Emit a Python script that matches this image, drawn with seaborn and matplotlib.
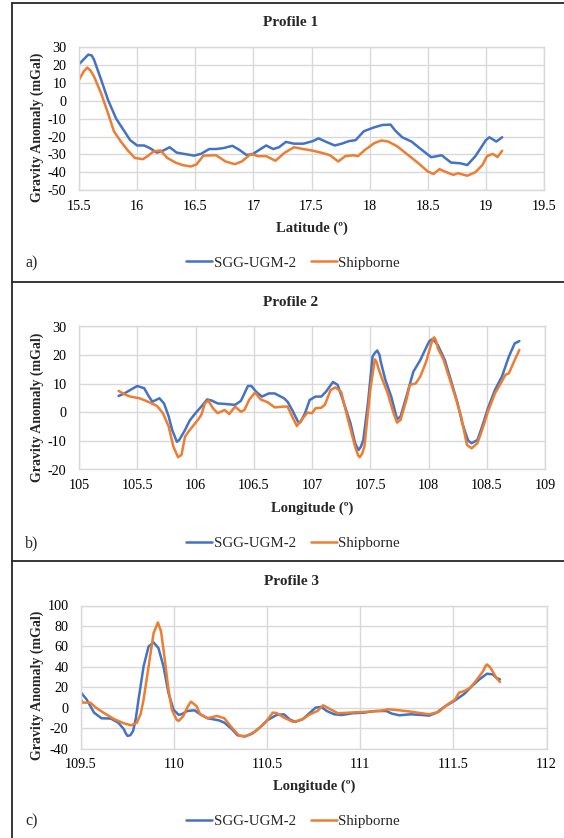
import numpy as np
import pandas as pd
import matplotlib
matplotlib.use("Agg")
import matplotlib.pyplot as plt
from matplotlib.lines import Line2D
from matplotlib.ticker import FuncFormatter
import seaborn as sns

# ---------------- data ----------------
p1_lat_sgg = [15.50, 15.55, 15.58, 15.61, 15.63, 15.69, 15.75, 15.82, 15.88, 15.94, 16.00, 16.06, 16.11, 16.17,
              16.22, 16.28, 16.34, 16.40, 16.49, 16.55, 16.62, 16.68, 16.74, 16.82, 16.88, 16.94,
              16.99, 17.05, 17.11, 17.17, 17.22, 17.28, 17.35, 17.43, 17.51, 17.56, 17.62, 17.70,
              17.76, 17.82, 17.88, 17.95, 18.04, 18.11, 18.18, 18.22, 18.28, 18.36, 18.44, 18.53,
              18.62, 18.70, 18.78, 18.84, 18.91, 19.00, 19.03, 19.09, 19.14]
p1_val_sgg = [20.6, 24, 26, 25.5, 23, 12, 0.5, -10, -16, -22, -25, -25, -26.5, -29,
              -28, -26, -29, -29.7, -30.7, -29.7, -27, -27, -26.5, -25.2, -27.5, -30.3,
              -30, -27.5, -25, -27, -26, -23, -24, -24, -22.6, -21, -22.8, -25,
              -24, -22.6, -22, -17, -14.8, -13.5, -13.3, -16.6, -20.4, -22.8, -27, -31.6,
              -30.5, -34.6, -35, -36, -31, -22, -20.4, -22.8, -20.4]
p1_lat_ship = [15.50, 15.54, 15.57, 15.60, 15.63, 15.69, 15.75, 15.80, 15.86, 15.92, 15.98, 16.05, 16.09, 16.14,
               16.20, 16.26, 16.33, 16.39, 16.46, 16.51, 16.57, 16.68, 16.76, 16.84, 16.90, 16.98,
               17.04, 17.11, 17.19, 17.27, 17.35, 17.42, 17.50, 17.58, 17.66, 17.73, 17.79, 17.86,
               17.90, 17.96, 18.04, 18.10, 18.16, 18.24, 18.33, 18.42, 18.50, 18.55, 18.60, 18.66,
               18.72, 18.76, 18.84, 18.91, 18.97, 19.01, 19.06, 19.10, 19.14]
p1_val_ship = [11.8, 16.5, 18.7, 17, 13.6, 4.3, -7, -17, -22.8, -27.8, -32, -32.7, -31, -28.4,
               -27.8, -32, -34.6, -36, -36.8, -35.7, -30.7, -30.5, -34, -35.5, -34, -29.7,
               -31, -31, -33.6, -29, -26, -26.9, -27.8, -29, -30.5, -34, -31, -30.5,
               -31, -27.5, -23.7, -22.2, -22.8, -25.6, -30.3, -35, -39.6, -41, -38.3, -40,
               -41.5, -40.6, -42, -40, -36, -31, -29.7, -31.5, -28]

p2_lon_sgg = [105.34, 105.39, 105.44, 105.50, 105.56, 105.60, 105.63, 105.69, 105.73, 105.77,
              105.80, 105.84, 105.86, 105.91, 105.95, 106.00, 106.05, 106.10, 106.14, 106.19,
              106.26, 106.34, 106.39, 106.45, 106.48, 106.52, 106.57, 106.63, 106.68, 106.76,
              106.79, 106.83, 106.88, 106.90, 106.94, 106.98, 107.03, 107.08, 107.12, 107.18,
              107.22, 107.26, 107.33, 107.37, 107.39, 107.40, 107.42, 107.44, 107.48, 107.52, 107.54,
              107.56, 107.58, 107.59, 107.63, 107.68, 107.73, 107.76, 107.81, 107.87, 107.93, 107.99,
              108.01, 108.03, 108.05, 108.08,
              108.14, 108.20, 108.25, 108.29, 108.34, 108.37, 108.42, 108.46, 108.51, 108.57,
              108.63, 108.69, 108.74, 108.78]
p2_val_sgg = [5.7, 6.6, 7.8, 9.2, 8.4, 5.5, 3.7, 4.9, 3.1, -1.5,
              -6.2, -10.3, -9.7, -6.2, -2.9, -0.3, 2, 4.5, 4.1, 3.1,
              2.9, 2.6, 4, 9.2, 9.2, 7.2, 5.5, 6.6, 6.6, 4.9,
              3.7, 0.8, -3.3, -3.5, -0.3, 4.3, 5.5, 5.5, 7.2, 10.6,
              9.6, 4.9, -3.8, -10.8, -12.5, -13.2, -12, -9.7, 3.1, 19.5, 20.8,
              21.6, 20, 17.7, 11.3, 5.5, -2.4, -1.5, 5.5, 14.2, 18.3, 23.5,
              25, 25.5, 25, 23.5,
              18.3, 10.1, 3.1, -3.8, -9.9, -10.8, -9.7, -5, 1.4, 7.8,
              12.5, 19.5, 24.1, 24.9]
p2_lon_ship = [105.34, 105.39, 105.44, 105.52, 105.61, 105.67, 105.72, 105.77, 105.81, 105.85,
               105.88, 105.91, 105.95, 106.02, 106.05, 106.08, 106.11, 106.15, 106.19, 106.25,
               106.29, 106.34, 106.39, 106.42, 106.46, 106.51, 106.56, 106.62, 106.68, 106.76,
               106.79, 106.83, 106.87, 106.91, 106.96, 107.00, 107.03, 107.08, 107.11, 107.16,
               107.20, 107.25, 107.31, 107.37, 107.395, 107.41, 107.43, 107.45, 107.50, 107.53,
               107.54, 107.555, 107.57, 107.60,
               107.65, 107.70, 107.73, 107.76, 107.81, 107.84, 107.89, 107.93, 107.98, 108.02,
               108.04, 108.05, 108.065, 108.08, 108.13, 108.17, 108.23, 108.28, 108.33, 108.37, 108.42, 108.46,
               108.51, 108.57, 108.62, 108.66, 108.69, 108.74, 108.78]
p2_val_ship = [7.5, 6.3, 5.5, 4.9, 3.4, 2.2, -0.3, -5, -12, -15.7,
               -14.9, -8.5, -6.2, -2.7, -0.9, 3.1, 4.1, 1.4, -0.3, 0.8,
               -0.6, 2, 0.2, 0.8, 4.3, 6.9, 4.5, 3.5, 1.7, 2,
               2, -1.5, -4.8, -2.7, -0.1, -0.3, 1.4, 1.6, 2.6, 7.8,
               8.7, 7.2, -2.7, -12, -15, -15.7, -14.5, -12, 7.8, 16,
               18.5, 17.5, 15.4, 11.9,
               6.6, -0.3, -3.6, -2.7, 4.3, 9.6, 10.1, 12.5, 17.7, 23.5,
               25.8, 26.2, 25, 22.4, 18.3, 13.1, 5.5, -1.5, -11.4, -12.6, -10.8, -6.2,
               0.2, 6.6, 10.1, 13.1, 13.6, 18.3, 21.8]

p3_lon_sgg = [109.50, 109.53, 109.57, 109.61, 109.66, 109.70, 109.73, 109.74, 109.75, 109.765, 109.78,
              109.795, 109.809, 109.836, 109.863, 109.89, 109.916, 109.943, 109.97, 109.997, 110.024,
              110.04, 110.07, 110.11,
              110.14, 110.18, 110.24, 110.27, 110.31, 110.34, 110.38, 110.42, 110.46, 110.50,
              110.55, 110.59, 110.62, 110.65, 110.69, 110.73, 110.76, 110.79, 110.82, 110.86,
              110.90, 110.96, 111.02, 111.08, 111.14, 111.17, 111.21, 111.27, 111.33, 111.37,
              111.41, 111.45, 111.51, 111.56, 111.60, 111.64, 111.68, 111.71, 111.73, 111.75]
p3_val_sgg = [14.7, 8.1, -4.9, -10.4, -10.7, -14.7, -21, -25, -27.7, -27, -22.8,
              -10, 8, 40.3, 59.9, 63.8, 58.3, 40.3, 14.2, -2, -7,
              -6.5, -3.3, -2.6,
              -6.5, -10.4, -12.4, -14.7, -21, -27, -28.3, -25.4, -19.5, -12.4,
              -7.2, -6.5, -11.4, -14, -11.4, -4.9, 0, 0.7, -3.3, -6.5,
              -7.2, -5.5, -4.9, -3.3, -3.3, -5.9, -7.5, -6.5, -7.2, -7.8,
              -4.9, 0.7, 7.2, 13.7, 21.2, 27.7, 33.2, 32.6, 29.3, 27.7]
p3_lon_ship = [109.50, 109.51, 109.55, 109.58, 109.62, 109.68, 109.73, 109.77, 109.80, 109.82,
               109.836, 109.863, 109.89, 109.913, 109.93, 109.948, 109.97, 109.988, 110.014, 110.025,
               110.05, 110.07, 110.09, 110.12, 110.14, 110.18, 110.23, 110.27, 110.31, 110.35, 110.39, 110.44,
               110.49, 110.53, 110.55, 110.59, 110.64, 110.69, 110.73, 110.77, 110.80, 110.84,
               110.88, 110.94, 111.02, 111.10, 111.15, 111.21, 111.27, 111.33, 111.37, 111.42,
               111.47, 111.51, 111.53, 111.56, 111.59, 111.62, 111.66, 111.67, 111.68, 111.695, 111.71, 111.73,
               111.75]
p3_val_ship = [8.1, 4.9, 4.9, 0, -4.9, -11.4, -15.3, -17.3, -14.7, -6.5,
               7.7, 40.3, 73, 83.4, 74.6, 50, 17.5, -2, -12, -13,
               -8.1, 0, 5.9, 1.6, -6.5, -10.4, -8.1, -10.4, -19.5, -27.7, -27.7, -22.8,
               -14.7, -4.9, -5.2, -9.8, -14, -11.4, -6.5, -3.3, 2.3, -1.6,
               -5.5, -4.9, -4.2, -3.3, -1.6, -2.6, -3.9, -5.5, -6.5, -4.2,
               3.3, 8.1, 14.7, 16.3, 19.5, 26, 35.8, 40, 42.3, 40, 35.8, 29.3,
               25.1]

series_names = ["SGG-UGM-2", "Shipborne"]
panel_titles = ["Profile 1", "Profile 2", "Profile 3"]
x_labels = ["Latitude (º)", "Longitude (º)", "Longitude (º)"]
y_label = "Gravity Anomaly (mGal)"
panel_tags = ["a)", "b)", "c)"]
p1_xticks = [15.5, 16, 16.5, 17, 17.5, 18, 18.5, 19, 19.5]
p1_yticks = [-50, -40, -30, -20, -10, 0, 10, 20, 30]
p2_xticks = [105, 105.5, 106, 106.5, 107, 107.5, 108, 108.5, 109]
p2_yticks = [-20, -10, 0, 10, 20, 30]
p3_xticks = [109.5, 110, 110.5, 111, 111.5, 112]
p3_yticks = [-40, -20, 0, 20, 40, 60, 80, 100]

# ---------------- style ----------------
BLUE = "#4472C4"
ORANGE = "#ED7D31"
GRID = "#D9D9D9"
W, H = 564, 838

sns.set_theme(style="white")
plt.rcParams["font.family"] = ["Liberation Serif", "DejaVu Serif"]
plt.rcParams["axes.unicode_minus"] = False

fig = plt.figure(figsize=(W / 100, H / 100), dpi=100)
fig.patch.set_facecolor("white")


def fx(px):
    return px / W


def fy(py):
    return 1 - py / H


def panel(box, off, xa, ya, xb, yb, xticks, yticks, title, xlabel, tag):
    left, right, top, bottom = box
    ax = fig.add_axes([fx(left), fy(bottom), fx(right - left), (bottom - top) / H])
    df = pd.concat([
        pd.DataFrame({"x": xa, "y": ya, "series": series_names[0]}),
        pd.DataFrame({"x": xb, "y": yb, "series": series_names[1]}),
    ], ignore_index=True)
    sns.lineplot(data=df, x="x", y="y", hue="series", hue_order=series_names,
                 palette={series_names[0]: BLUE, series_names[1]: ORANGE},
                 estimator=None, sort=False, linewidth=1.8, legend=False, ax=ax)
    for ln in ax.lines:
        ln.set_solid_joinstyle("round")
        ln.set_solid_capstyle("round")
    ax.set_xlim(xticks[0], xticks[-1])
    ax.set_ylim(yticks[0], yticks[-1])
    ax.set_xticks(xticks)
    ax.set_yticks(yticks)
    ax.xaxis.set_major_formatter(FuncFormatter(lambda v, p: f"{v:g}"))
    ax.yaxis.set_major_formatter(FuncFormatter(lambda v, p: f"{v:g}"))
    ax.tick_params(axis="both", length=0, labelsize=10.2, colors="black")
    ax.tick_params(axis="y", pad=9)
    ax.tick_params(axis="x", pad=7)
    ax.grid(True, color=GRID, linewidth=1.0)
    ax.set_axisbelow(True)
    for s in ax.spines.values():
        s.set_color(GRID)
        s.set_linewidth(1.0)
    ax.set_xlabel("")
    ax.set_ylabel("")
    # texts
    fig.text(fx(291), fy(off + 23), title, ha="center", va="center",
             fontsize=11, fontweight="bold")
    fig.text(fx((left + right) / 2), fy(off + 228), xlabel, ha="center", va="center",
             fontsize=10.5, fontweight="bold")
    fig.text(fx(37), fy(off + 127), y_label, ha="center", va="center",
             rotation=90, fontsize=10, fontweight="bold")
    fig.text(fx(25), fy(off + 263), tag, ha="left", va="center", fontsize=11.5)
    handles = [Line2D([], [], color=BLUE, lw=1.8), Line2D([], [], color=ORANGE, lw=1.8)]
    fig.legend(handles, series_names, loc="center", ncol=2, frameon=False,
               bbox_to_anchor=(fx(293), fy(off + 263)), fontsize=10.8,
               handlelength=1.75, handletextpad=0.1, columnspacing=1.0,
               borderaxespad=0, borderpad=0)
    return ax


panel((79, 544, 47.5, 190), 0, p1_lat_sgg, p1_val_sgg, p1_lat_ship, p1_val_ship,
      p1_xticks, p1_yticks, panel_titles[0], x_labels[0], panel_tags[0])
panel((79, 545, 326.5, 469.5), 280, p2_lon_sgg, p2_val_sgg, p2_lon_ship, p2_val_ship,
      p2_xticks, p2_yticks, panel_titles[1], x_labels[1], panel_tags[1])
panel((81, 546.5, 605.5, 748.5), 558, p3_lon_sgg, p3_val_sgg, p3_lon_ship, p3_val_ship,
      p3_xticks, p3_yticks, panel_titles[2], x_labels[2], panel_tags[2])

# panel frame lines
for yy in (3.5, 282, 561):
    fig.add_artist(Line2D([fx(11.5), 1.0], [fy(yy), fy(yy)], color="#262626", lw=1.3))
fig.add_artist(Line2D([fx(11.5), fx(11.5)], [fy(3.5), 0.0], color="#262626", lw=1.3))

fig.savefig("out.png", dpi=100, facecolor="white")
